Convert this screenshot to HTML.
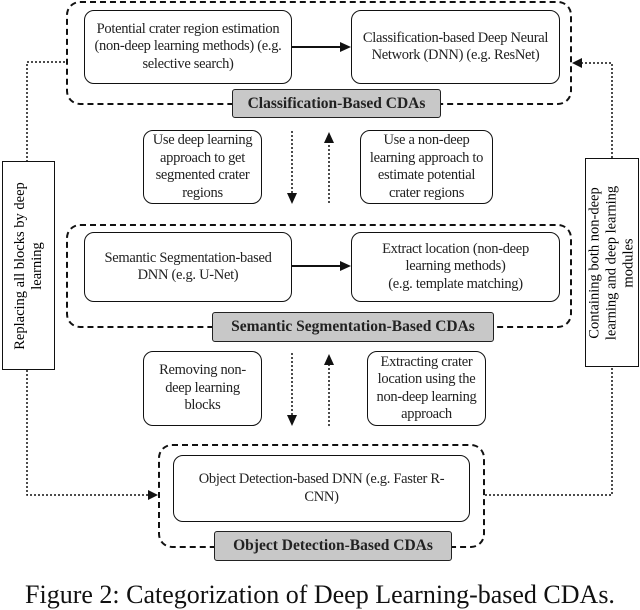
<!DOCTYPE html>
<html><head><style>
body{margin:0;width:640px;height:594px;overflow:hidden;background:#fff;font-family:"Liberation Serif",serif;}
.a{position:absolute;box-sizing:border-box;}
.d{border:2px dashed #111;border-radius:14px;}
.b{border:1.6px solid #111;border-radius:10px;display:flex;align-items:center;justify-content:center;text-align:center;font-size:14.5px;line-height:17.5px;color:#222;background:#fff;padding:0 4px;letter-spacing:-0.3px;}
.l{background:#c8c8c8;border:1.6px solid #222;border-radius:3px;font-weight:bold;font-size:15.5px;display:flex;align-items:center;justify-content:center;color:#222;}
.v{border:1.6px solid #111;background:#fff;}
.v div{position:absolute;left:50%;top:50%;transform:translate(-50%,-50%) rotate(-90deg);white-space:nowrap;text-align:center;font-size:14.5px;line-height:17px;}
</style></head><body>
<svg class="a" style="left:0;top:0" width="640" height="594">
<g stroke="#111" stroke-width="1.5" stroke-dasharray="2,2" fill="none">
<polyline points="65,62 27,62 27,161"/>
<polyline points="27,370 27,495 150,495"/>
<polyline points="485,495 612,495 612,367"/>
<polyline points="612,158 612,63 580,63"/>
<line x1="292" y1="131" x2="292" y2="194"/>
<line x1="329" y1="203" x2="329" y2="142"/>
<line x1="292" y1="353" x2="292" y2="416"/>
<line x1="329" y1="426" x2="329" y2="364"/>
</g>
<g fill="#111">
<polygon points="158,495 148,490 148,500"/>
<polygon points="572,63 582,58 582,68"/>
<polygon points="292,204 287,193 297,193"/>
<polygon points="329,132 324,143 334,143"/>
<polygon points="292,426 287,415 297,415"/>
<polygon points="329,354 324,365 334,365"/>
<polygon points="351,47 340,42 340,52"/>
<polygon points="351,266 340,261 340,271"/>
</g>
<g stroke="#111" stroke-width="2"><line x1="292" y1="47" x2="342" y2="47"/><line x1="292" y1="266" x2="342" y2="266"/></g>
</svg>
<div class="a d" style="left:66px;top:1px;width:506px;height:104px"></div>
<div class="a d" style="left:66px;top:224px;width:506px;height:104px"></div>
<div class="a d" style="left:158px;top:444px;width:327px;height:104px"></div>
<div class="a b" style="left:84px;top:10px;width:208px;height:74px">Potential crater region estimation (non-deep learning methods) (e.g. selective search)</div>
<div class="a b" style="left:351px;top:10px;width:209px;height:74px">Classification-based Deep Neural Network (DNN) (e.g. ResNet)</div>
<div class="a l" style="left:232px;top:89px;width:209px;height:29px">Classification-Based CDAs</div>
<div class="a b" style="left:143px;top:130px;width:119px;height:74px">Use deep learning approach to get segmented crater regions</div>
<div class="a b" style="left:360px;top:130px;width:133px;height:74px">Use a non-deep learning approach to estimate potential crater regions</div>
<div class="a b" style="left:84px;top:232px;width:208px;height:70px;padding:0 12px">Semantic Segmentation-based DNN (e.g. U-Net)</div>
<div class="a b" style="left:351px;top:232px;width:209px;height:70px;padding:0 24px">Extract location (non-deep learning methods)<br>(e.g. template matching)</div>
<div class="a l" style="left:212px;top:312px;width:282px;height:30px">Semantic Segmentation-Based CDAs</div>
<div class="a b" style="left:143px;top:351px;width:119px;height:75px;padding:0 12px">Removing non-deep learning blocks</div>
<div class="a b" style="left:367px;top:351px;width:119px;height:75px;padding:0 2px">Extracting crater location using the non-deep learning approach</div>
<div class="a b" style="left:173px;top:455px;width:297px;height:67px;padding:0 14px">Object Detection-based DNN (e.g. Faster R-CNN)</div>
<div class="a l" style="left:214px;top:531px;width:238px;height:30px">Object Detection-Based CDAs</div>
<div class="a v" style="left:2px;top:161px;width:53px;height:209px"><div>Replacing all blocks by deep<br>learning</div></div>
<div class="a v" style="left:585px;top:158px;width:54px;height:209px"><div>Containing both non-deep<br>learning and deep learning<br>modules</div></div>
<div class="a" style="left:0;top:580px;width:640px;text-align:center;font-size:26px;color:#111;white-space:nowrap">Figure 2: Categorization of Deep Learning-based CDAs.</div>
</body></html>
